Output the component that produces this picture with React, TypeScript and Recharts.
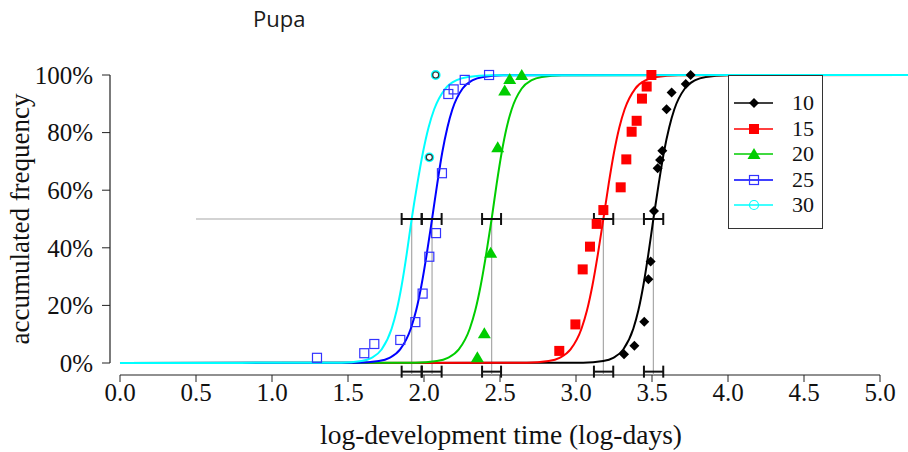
import React from "react";
import { ComposedChart, Line, Scatter, XAxis, YAxis, ReferenceLine, ErrorBar } from "recharts";

// temperatures (°C) and their colours
const temps = ["10", "15", "20", "25", "30"];
const colors = ["#000000", "#ff0000", "#00cd00", "#0000ff", "#00ffff"];

// observed accumulated frequency (%) vs log-development time
const obs10x = [3.316, 3.384, 3.449, 3.476, 3.491, 3.513, 3.537, 3.553, 3.568, 3.596, 3.629, 3.722, 3.754];
const obs10y = [3, 6, 14.3, 29.1, 35.2, 52.8, 67.6, 70.5, 73.7, 88.1, 93.9, 96.9, 100];
const obs15x = [2.89, 2.996, 3.044, 3.092, 3.136, 3.18, 3.294, 3.331, 3.366, 3.399, 3.434, 3.465, 3.496];
const obs15y = [4.2, 13.4, 32.5, 40.4, 48.3, 53.1, 61, 70.7, 80.3, 84.1, 91.8, 96, 100];
const obs20x = [2.351, 2.397, 2.439, 2.485, 2.531, 2.564, 2.643];
const obs20y = [2, 10.3, 38.3, 74.9, 94.6, 98.6, 100];
const obs25x = [1.296, 1.607, 1.673, 1.844, 1.943, 1.991, 2.035, 2.079, 2.118, 2.16, 2.195, 2.268, 2.428];
const obs25y = [1.8, 3.4, 6.6, 8, 14.2, 24.1, 36.9, 45.1, 65.9, 93.4, 95, 98.3, 100];
const obs30x = [2.035, 2.077];
const obs30y = [71.4, 100];

// fitted curves
const fit10x = [0, 3.047, 3.179, 3.245, 3.311, 3.377, 3.41, 3.443, 3.476, 3.509, 3.544, 3.578, 3.613, 3.647, 3.716, 3.785, 3.854, 3.992, 5.2];
const fit15x = [0, 2.676, 2.82, 2.892, 2.964, 3.036, 3.072, 3.108, 3.144, 3.18, 3.215, 3.25, 3.285, 3.32, 3.39, 3.46, 3.53, 3.67, 5.2];
const fit20x = [0, 1.941, 2.085, 2.157, 2.229, 2.301, 2.337, 2.373, 2.409, 2.445, 2.478, 2.511, 2.544, 2.577, 2.643, 2.709, 2.775, 2.907, 5.2];
const fit25x = [0, 1.563, 1.703, 1.773, 1.843, 1.913, 1.948, 1.983, 2.018, 2.053, 2.087, 2.12, 2.154, 2.187, 2.254, 2.321, 2.388, 2.522, 5.2];
const fit30x = [0, 1.457, 1.589, 1.655, 1.721, 1.787, 1.82, 1.853, 1.886, 1.919, 1.956, 1.993, 2.03, 2.067, 2.141, 2.215, 2.289, 2.437, 5.2];
const fitY = [0, 0.1, 0.7, 1.8, 4.7, 11.9, 18.2, 26.9, 37.8, 50, 62.2, 73.1, 81.8, 88.1, 95.3, 98.2, 99.3, 99.9, 100];

// median development time and its interval
const medians = [3.509, 3.18, 2.445, 2.053, 1.919];
const ciLow = [3.447, 3.118, 2.382, 1.985, 1.853];
const ciHigh = [3.574, 3.245, 2.507, 2.116, 1.985];
const guideStart = 0.5;
const baseBarY = -3;

const xTicks = [0, 0.5, 1, 1.5, 2, 2.5, 3, 3.5, 4, 4.5, 5];
const yTicks = [0, 20, 40, 60, 80, 100];

const X_MIN = -10 / 152;
const X_MAX = X_MIN + 798 / 152;
const Y_MIN = -12 / 2.88;
const Y_MAX = Y_MIN + 312 / 2.88;

const pts = (xs: number[], ys: number[]) => xs.map((x, i) => ({ x, y: ys[i] }));
const fits = [fit10x, fit15x, fit20x, fit25x, fit30x].map((xs) => pts(xs, fitY));
const obs = [pts(obs10x, obs10y), pts(obs15x, obs15y), pts(obs20x, obs20y), pts(obs25x, obs25y), pts(obs30x, obs30y)];

const ciMid = medians.map((m, i) => ({ x: m, y: 50, ex: [m - ciLow[i], ciHigh[i] - m] }));
const ciBase = medians.map((m, i) => ({ x: m, y: baseBarY, ex: [m - ciLow[i], ciHigh[i] - m] }));

const SERIF = "'Liberation Serif', 'Times New Roman', serif";

function Marker({ kind, cx, cy }: { kind: number; cx: number; cy: number }) {
  if (kind === 0)
    return <path d={`M${cx},${cy - 5}L${cx + 5},${cy}L${cx},${cy + 5}L${cx - 5},${cy}Z`} fill="#000" />;
  if (kind === 1) return <rect x={cx - 5} y={cy - 5} width={10} height={10} fill="#ff0000" />;
  if (kind === 2)
    return <path d={`M${cx},${cy - 6}L${cx + 6.5},${cy + 5}L${cx - 6.5},${cy + 5}Z`} fill="#00cd00" />;
  if (kind === 3)
    return <rect x={cx - 4.5} y={cy - 4.5} width={9} height={9} fill="none" stroke="#3333ff" strokeWidth={1.2} />;
  return <circle cx={cx} cy={cy} r={4.5} fill="none" stroke="#00ffff" strokeWidth={1.2} />;
}

const shapes = [0, 1, 2, 3].map((k) => (p: any) => <Marker kind={k} cx={p.cx} cy={p.cy} />);
// the two 30° points look like dark rings with a cyan halo
shapes.push((p: any) => (
  <g>
    <circle cx={p.cx} cy={p.cy} r={3.8} fill="none" stroke="#00ffff" strokeWidth={2.2} />
    <circle cx={p.cx} cy={p.cy} r={3} fill="#fff" stroke="#333" strokeWidth={1.2} />
  </g>
));

const YTitle = (props: any) => {
  const vb = props.viewBox;
  const cy = vb.y + vb.height / 2;
  return (
    <text x={29} y={cy} transform={`rotate(-90, 29, ${cy})`} textAnchor="middle" fontFamily={SERIF} fontSize={27} fill="#111">
      accumulated frequency
    </text>
  );
};

export default function App() {
  return (
    <div style={{ position: "absolute", left: 0, top: 0, width: 908, height: 452, background: "#fff" }}>
      <div style={{ position: "absolute", left: 253, top: 3, fontFamily: "'Open Sans', sans-serif", fontSize: 22, color: "#1a1a1a" }}>
        Pupa
      </div>
      <ComposedChart width={908} height={452} margin={{ top: 63, right: 0, bottom: 0, left: 10 }}>
        <XAxis
          type="number"
          dataKey="x"
          domain={[X_MIN, X_MAX]}
          allowDataOverflow
          ticks={xTicks}
          tickFormatter={(v) => Number(v).toFixed(1)}
          height={77}
          axisLine={false}
          tickSize={7}
          tickMargin={1}
          tickLine={{ stroke: "#222" }}
          tick={{ fontFamily: SERIF, fontSize: 25, fill: "#111" }}
          label={{ value: "log-development time (log-days)", position: "insideBottom", offset: 8, dx: -8, style: { fontFamily: SERIF, fontSize: 27.5, fill: "#111" } }}
        />
        <YAxis
          type="number"
          dataKey="y"
          domain={[Y_MIN, Y_MAX]}
          allowDataOverflow
          ticks={yTicks}
          tickFormatter={(v) => `${v}%`}
          width={100}
          axisLine={false}
          tickSize={8}
          tickMargin={9}
          tickLine={{ stroke: "#222" }}
          tick={{ fontFamily: SERIF, fontSize: 25, fill: "#111" }}
          label={YTitle}
        />
        <ReferenceLine segment={[{ x: 0, y: Y_MIN }, { x: 5, y: Y_MIN }]} stroke="#222" strokeWidth={1.2} />
        <ReferenceLine segment={[{ x: X_MIN, y: 0 }, { x: X_MIN, y: 100 }]} stroke="#222" strokeWidth={1.2} />
        <ReferenceLine segment={[{ x: guideStart, y: 50 }, { x: Math.max(...ciHigh), y: 50 }]} stroke="#a8a8a8" strokeWidth={1.2} />
        {medians.map((m, i) => (
          <ReferenceLine key={`v${i}`} segment={[{ x: m, y: Y_MIN }, { x: m, y: 50 }]} stroke="#a8a8a8" strokeWidth={1.2} />
        ))}
        {obs.map((d, i) => (
          <Scatter key={`o${i}`} name={temps[i]} data={d} shape={shapes[i]} isAnimationActive={false} />
        ))}
        {fits.map((d, i) => (
          <Line key={`f${i}`} data={d} dataKey="y" type="monotone" stroke={colors[i]} strokeWidth={2} dot={false} isAnimationActive={false} />
        ))}
        <Scatter data={ciMid} shape={() => <g />} isAnimationActive={false}>
          <ErrorBar dataKey="ex" direction="x" width={6} stroke="#111" strokeWidth={2} isAnimationActive={false} />
        </Scatter>
        <Scatter data={ciBase} shape={() => <g />} isAnimationActive={false}>
          <ErrorBar dataKey="ex" direction="x" width={6} stroke="#111" strokeWidth={2} isAnimationActive={false} />
        </Scatter>
      </ComposedChart>
      <div
        style={{
          position: "absolute",
          left: 728,
          top: 75,
          width: 93,
          height: 152,
          border: "1px solid #333",
          background: "#fff",
        }}
      >
        {temps.map((t, i) => (
          <div key={t} style={{ position: "absolute", left: 0, top: 14 + i * 25.5, height: 26, width: 93 }}>
            <svg width={50} height={26} style={{ position: "absolute", left: 0, top: 0 }}>
              <line x1={5} y1={13} x2={44} y2={13} stroke={colors[i]} strokeWidth={1.5} />
              <Marker kind={i} cx={25} cy={13} />
            </svg>
            <span style={{ position: "absolute", left: 63, top: 0, lineHeight: "26px", fontFamily: SERIF, fontSize: 22, color: "#111" }}>
              {t}
            </span>
          </div>
        ))}
      </div>
    </div>
  );
}
